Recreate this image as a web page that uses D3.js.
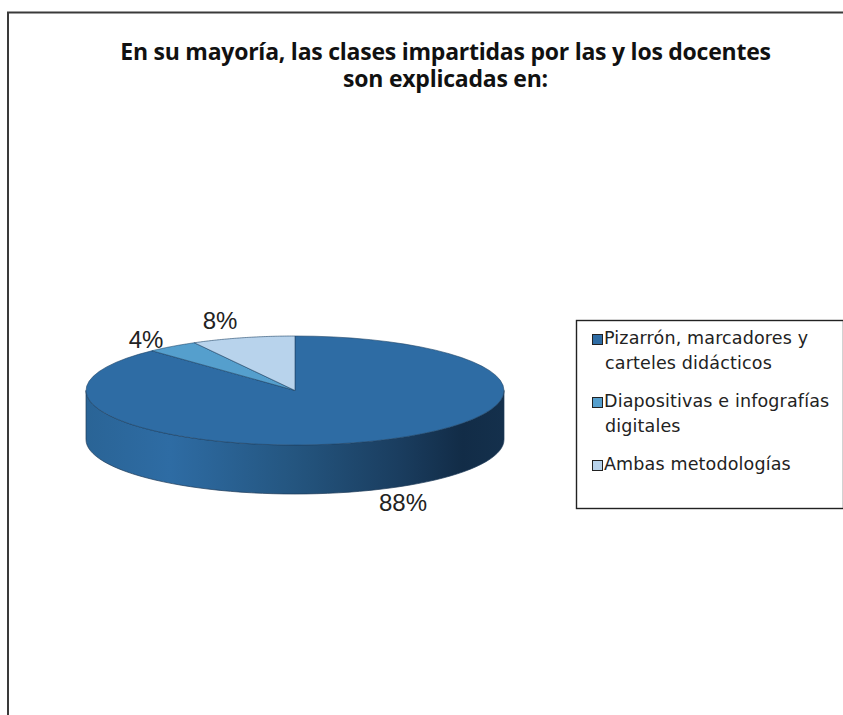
<!DOCTYPE html>
<html><head><meta charset="utf-8">
<script src="https://cdn.jsdelivr.net/npm/d3@7"></script>
<style>html,body{margin:0;padding:0;background:#fff;overflow:hidden}svg{display:block}</style>
</head><body><div id="chart"></div>
<script>
const titleLines = ["En su mayoría, las clases impartidas por las y los docentes", "son explicadas en:"];
const categories = ["Pizarrón, marcadores y|carteles didácticos", "Diapositivas e infografías|digitales", "Ambas metodologías"];
const values = [88, 4, 8];
const valueLabels = ["88%", "4%", "8%"];
const colors = ["#2e6ca4", "#559fcd", "#b8d3ec"];
const W = 843, H = 715;
const svg = d3.select("#chart").append("svg").attr("width", W).attr("height", H);

const defs = svg.append("defs");
const grad = defs.append("linearGradient").attr("id", "wall");
[[0,"#2a6496"],[0.2,"#2e6ca4"],[0.5,"#24557f"],[0.75,"#1a3d5f"],[0.9,"#122c47"],[1,"#14304c"]]
  .forEach(([o,c]) => grad.append("stop").attr("offset", o).attr("stop-color", c));

// frame
svg.append("path").attr("d", `M8,${H}V12.5H${W}`).attr("fill","none").attr("stroke","#3a3a3a").attr("stroke-width",2);

// title
svg.append("g").selectAll("text").data(titleLines).join("text")
  .attr("x", 445.5).attr("y", (d,i) => 60 + i*27)
  .attr("text-anchor","middle").attr("font-family","'Open Sans',sans-serif")
  .attr("font-weight",700).attr("font-size",23).attr("letter-spacing",-0.24).attr("fill","#111").text(d=>d);

// pie
const x = d3.scaleLinear().domain([-1,1]).range([86,504]);
const y = d3.scaleLinear().domain([1,-1]).range([336,445]);
const depth = 49;
const arcs = d3.pie().sort(null).value(d=>d)(values);
const pt = a => [x(Math.sin(a)), y(Math.cos(a))];
const line = d3.line();
const sample = (a0,a1) => d3.range(0,61).map(i => a0 + (a1-a0)*i/60);
const g = svg.append("g");

// side wall: front half of the ellipse, extruded downward
const front = sample(Math.PI/2, 3*Math.PI/2).map(pt);
const wall = front.concat(front.slice().reverse().map(p => [p[0], p[1]+depth]));
g.append("path").attr("d", line(wall)+"Z").attr("fill","url(#wall)").attr("stroke","#1c3a57").attr("stroke-width",0.7);

// top slices
g.selectAll("path.slice").data(arcs).join("path").attr("class","slice")
  .attr("d", d => line([[x(0),y(0)], ...sample(d.startAngle,d.endAngle).map(pt)])+"Z")
  .attr("fill",(d,i)=>colors[i]).attr("stroke","#1f4468").attr("stroke-width",0.6).attr("stroke-linejoin","round");

// data labels
const labelPos = [[403,511],[146,348],[220,329]];
g.selectAll("text").data(valueLabels).join("text")
  .attr("x",(d,i)=>labelPos[i][0]).attr("y",(d,i)=>labelPos[i][1])
  .attr("text-anchor","middle").attr("font-family","'Liberation Sans',sans-serif")
  .attr("font-size",24).attr("fill","#222").text(d=>d);

// legend
const lg = svg.append("g");
lg.append("rect").attr("x",576.5).attr("y",320.5).attr("width",267).attr("height",188)
  .attr("fill","#fff").attr("stroke","#222").attr("stroke-width",1.4);
const rowY = [344,407,470];
categories.forEach((c,i) => {
  lg.append("rect").attr("x",592.5).attr("y",rowY[i]-9.5).attr("width",10).attr("height",10)
    .attr("fill",colors[i]).attr("stroke","#222");
  c.split("|").forEach((t,j) => lg.append("text")
    .attr("x", j ? 605 : 604).attr("y", rowY[i]+j*25)
    .attr("font-family","'DejaVu Sans',sans-serif").attr("font-size",17.5).attr("letter-spacing",0.15).attr("fill","#222").text(t));
});
</script></body></html>
